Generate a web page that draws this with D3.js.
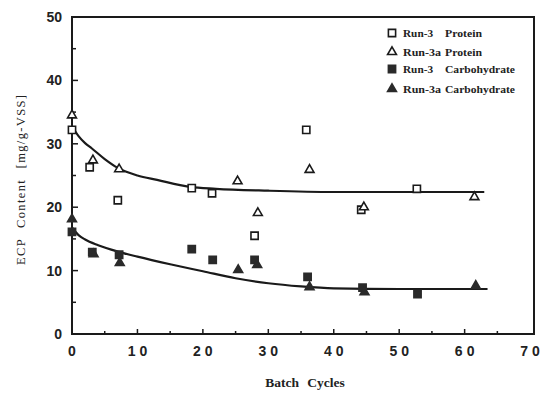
<!DOCTYPE html>
<html><head><meta charset="utf-8">
<script src="https://cdn.jsdelivr.net/npm/d3@7"></script>
<style>body{margin:0;background:#fff}svg{display:block}</style>
</head><body><svg id="c" width="545" height="394"></svg>
<script>
// ---- data ----
const xTicks = [0,10,20,30,40,50,60,70];
const yTicks = [0,10,20,30,40,50];
const run3ProteinX = [0,2.7,7.0,18.3,21.4,27.9,35.8,44.2,52.7];
const run3ProteinY = [32.2,26.3,21.1,23.0,22.2,15.5,32.2,19.6,22.9];
const run3aProteinX = [0,3.2,7.2,25.3,28.4,36.3,44.6,61.5];
const run3aProteinY = [34.5,27.4,26.0,24.1,19.1,25.9,20.0,21.6];
const run3CarbX = [0,3.1,7.2,18.3,21.5,27.9,36.0,44.4,52.8];
const run3CarbY = [16.1,12.9,12.5,13.4,11.7,11.7,9.0,7.3,6.3];
const run3aCarbX = [0,3.3,7.3,25.4,28.3,36.3,44.7,61.7];
const run3aCarbY = [18.1,12.6,11.2,10.1,10.9,7.4,6.6,7.6];
const proteinCurveX = [0,1,2,3,5,7,10,13,18,22,30,40,50,63];
const proteinCurveY = [32.8,31.2,30.1,29.3,27.6,26.2,25.0,24.3,23.2,22.9,22.6,22.4,22.4,22.4];
const carbCurveX = [0,1,2,4,7,10,15,20,25,30,35,40,50,63.5];
const carbCurveY = [16.8,15.6,14.9,14.0,13.0,12.2,11.0,9.9,8.8,8.0,7.5,7.2,7.1,7.1];
const legendLabels = [["Run-3","Protein"],["Run-3a","Protein"],["Run-3","Carbohydrate"],["Run-3a","Carbohydrate"]];

const svg = d3.select("#c");
const x = d3.scaleLinear().domain([0,70.6]).range([72,534]);
const y = d3.scaleLinear().domain([0,50]).range([334,17]);
const ink = "#1a1a1a";

// frame
svg.append("rect").attr("x",72).attr("y",17).attr("width",462).attr("height",317)
  .attr("fill","none").attr("stroke",ink).attr("stroke-width",2);

// ticks (inward)
const gx = svg.append("g");
d3.range(0,70,5).forEach(v=>{
  const major = v%10===0;
  gx.append("line").attr("x1",x(v)).attr("x2",x(v)).attr("y1",334).attr("y2",334-(major?5:3))
    .attr("stroke",ink).attr("stroke-width",1.5);
});
d3.range(0,50,5).forEach(v=>{
  const major = v%10===0;
  gx.append("line").attr("x1",72).attr("x2",72+(major?6:4)).attr("y1",y(v)).attr("y2",y(v))
    .attr("stroke",ink).attr("stroke-width",1.5);
});

// tick labels
svg.append("g").selectAll("text").data(xTicks).join("text")
  .attr("x",d=>x(d)+ (d===0?0:2)).attr("y",356).attr("text-anchor","middle")
  .attr("font-family","Liberation Sans, Arial, sans-serif").attr("font-weight","bold")
  .attr("font-size",14).attr("letter-spacing",d=>d===0?0:4).attr("fill","#222")
  .text(d=>String(d));
svg.append("g").selectAll("text").data(yTicks).join("text")
  .attr("x",62).attr("y",d=>y(d)+5).attr("text-anchor","end")
  .attr("font-family","Liberation Sans, Arial, sans-serif").attr("font-weight","bold")
  .attr("font-size",14).attr("fill","#222").text(d=>String(d));

// axis titles
svg.append("text").attr("x",305).attr("y",387).attr("text-anchor","middle")
  .attr("font-family","Liberation Serif, Times New Roman, serif").attr("font-weight","bold")
  .attr("font-size",13.5).attr("word-spacing",5).attr("fill","#222").text("Batch Cycles");
svg.append("text").attr("transform","translate(25,180) rotate(-90)").attr("text-anchor","middle")
  .attr("font-family","Liberation Serif, Times New Roman, serif")
  .attr("font-size",12.5).attr("word-spacing",6).attr("fill","#222")
  .attr("textLength",170).attr("lengthAdjust","spacing")
  .text("ECP Content [mg/g-VSS]");

// curves
const line = d3.line().x(d=>x(d[0])).y(d=>y(d[1])).curve(d3.curveMonotoneX);
svg.append("path").attr("d",line(d3.zip(proteinCurveX,proteinCurveY)))
  .attr("fill","none").attr("stroke",ink).attr("stroke-width",2.2);
svg.append("path").attr("d",line(d3.zip(carbCurveX,carbCurveY)))
  .attr("fill","none").attr("stroke",ink).attr("stroke-width",2.2);

// markers
const sq = d3.symbol().type(d3.symbolSquare).size(52)();
const tri = d3.symbol().type(d3.symbolTriangle).size(34)();
function pts(xs,ys,path,filled){
  svg.append("g").selectAll("path").data(d3.zip(xs,ys)).join("path")
    .attr("transform",d=>`translate(${x(d[0])},${y(d[1])})`).attr("d",path)
    .attr("fill",filled?"#2a2a2a":"#fff").attr("stroke",filled?"#2a2a2a":ink).attr("stroke-width",1.6);
}
pts(run3ProteinX,run3ProteinY,sq,false);
pts(run3aProteinX,run3aProteinY,tri,false);
pts(run3CarbX,run3CarbY,sq,true);
pts(run3aCarbX,run3aCarbY,tri,true);

// legend
const legY = [33,52,69,89];
const legSym = [[sq,false],[tri,false],[sq,true],[tri,true]];
const firstW = [30,38,30,38];
const secondW = [37,37,70,70];
legendLabels.forEach((lab,i)=>{
  svg.append("path").attr("transform",`translate(392,${legY[i]})`).attr("d",legSym[i][0])
    .attr("fill",legSym[i][1]?"#2a2a2a":"#fff").attr("stroke",legSym[i][1]?"#2a2a2a":ink).attr("stroke-width",1.6);
  const g = svg.append("g").attr("font-family","Liberation Serif, Times New Roman, serif")
    .attr("font-weight","bold").attr("font-size",11).attr("fill","#222");
  g.append("text").attr("x",403).attr("y",legY[i]+4).attr("textLength",firstW[i])
    .attr("lengthAdjust","spacingAndGlyphs").text(lab[0]);
  g.append("text").attr("x",445).attr("y",legY[i]+4).attr("textLength",secondW[i])
    .attr("lengthAdjust","spacingAndGlyphs").text(lab[1]);
});
</script></body></html>
